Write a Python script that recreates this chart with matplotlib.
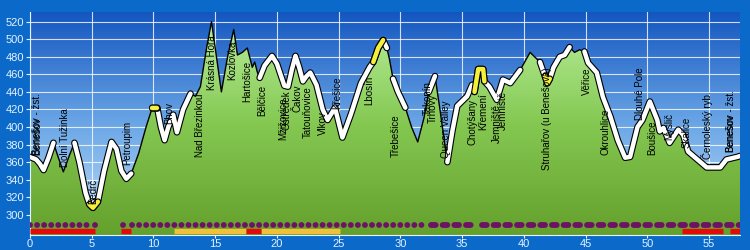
import numpy as np
import matplotlib.pyplot as plt
import matplotlib.patheffects as pe
from matplotlib.colors import LinearSegmentedColormap
from matplotlib.patches import Polygon

plt.rcParams['font.family'] = ['Liberation Sans', 'DejaVu Sans']

# elevation profile (km, m)
km = np.array([0.0, 0.5, 0.8, 1.1, 1.5, 1.9, 2.3, 2.7, 3.2, 3.6, 4.0, 4.5, 4.8, 5.1, 5.5,
               6.0, 6.6, 7.0, 7.4, 7.8, 8.2, 8.8, 9.4, 9.9, 10.3, 10.6, 10.9, 11.2, 11.6,
               11.9, 12.4, 13.0, 13.4, 13.8, 14.3, 14.7, 15.1, 15.5, 16.0, 16.5, 16.8,
               17.2, 17.6, 18.0, 18.2, 18.4, 18.6, 19.0, 19.6, 20.0, 20.6, 20.9, 21.2,
               21.5, 21.8, 22.1, 22.4, 22.7, 23.2, 23.7, 24.1, 24.7, 25.3, 26.0, 26.8,
               27.5, 27.8, 28.2, 28.6, 28.9, 29.1, 29.4, 29.8, 30.4, 30.9, 31.4, 31.9,
               32.3, 32.8, 33.2, 33.8, 34.2, 34.6, 35.4, 35.8, 36.0, 36.3, 36.7, 36.8,
               37.2, 37.8, 38.3, 38.9, 39.7, 40.5, 41.3, 41.7, 41.9, 42.1, 42.4, 42.9,
               43.3, 43.7, 44.1, 44.5, 44.9, 45.2, 45.9, 46.4, 47.0, 47.6, 48.2, 48.6,
               49.2, 49.6, 50.2, 50.8, 51.0, 51.3, 51.8, 52.5, 52.9, 53.3, 54.3, 54.8,
               55.9, 56.4, 57.3, 57.5])
elev = np.array([366, 363, 358, 351, 365, 382, 365, 349, 368, 382, 360, 325, 312, 308, 315,
                 350, 383, 375, 350, 341, 347, 370, 400, 422, 422, 400, 385, 400, 414,
                 394, 420, 438, 435, 446, 490, 520, 480, 440, 480, 511, 482,
                 485, 490, 468, 474, 463, 456, 470, 481, 472, 447, 446, 465,
                 481, 468, 452, 458, 462, 448, 420, 408, 422, 388, 415, 450,
                 468, 474, 490, 499, 490, 478, 455, 440, 422, 400, 383, 410,
                 440, 458, 420, 360, 395, 424, 435, 448, 440, 466, 466, 452,
                 446, 431, 454, 450, 465, 485, 474, 458, 450, 455, 468, 480,
                 482, 491, 485, 488, 486, 473, 462, 434, 412, 385, 365, 366,
                 400, 408, 429, 408, 395, 399, 382, 397, 391, 372, 360, 354,
                 354, 363, 366, 367])

# parts of the route with track line / climbs
track_segments = [(0.0, 1.9), (3.6, 8.2), (9.9, 13.0), (18.6, 28.9), (29.4, 30.4),
                  (32.3, 32.8), (33.8, 39.7), (41.3, 43.7), (44.9, 57.5)]
yellow_segments = [(4.8, 5.5), (9.9, 10.3), (27.8, 28.6), (36.0, 36.8), (41.7, 42.1)]

# places
place_names = ['Benešov', 'Benešov - žst.', 'Dolní Tužinka', 'Bedrč', 'Petroupim', 'Bhov',
               'Nad Březinkou', 'Krásná Hora', 'Kozlovka', 'Hartošice', 'Bělčice',
               'Mžižovice', 'Ostředek', 'Čakov', 'Tatouňovice', 'Vlkov', 'Křešice',
               'Lbosín', 'Třebešice', 'Takonín', 'Trhový', 'Queen Valley', 'Chotýšany',
               'Křemení', 'Jemniště', 'Jemniště', 'Struhařov (u Benešova)', 'Věřice',
               'Okrouhlice', 'Dlouhé Pole', 'Boušice', 'Myslič', 'Skalice',
               'Černoleský ryb.', 'Benešov', 'Benešov - žst.']
place_km = [0.55, 0.6, 2.8, 5.1, 7.9, 11.3, 13.8, 14.7, 16.4, 17.6, 18.8, 20.5, 20.8,
            21.7, 22.5, 23.7, 24.9, 27.5, 29.6, 32.2, 32.6, 33.7, 35.8, 36.7, 37.8, 38.3,
            41.9, 45.1, 46.6, 49.4, 50.4, 51.8, 53.2, 54.8, 56.7, 56.75]
place_elev = [368, 368, 355, 312, 357, 403, 366, 442, 454, 428, 412, 385, 397, 417,
              388, 391, 420, 425, 366, 414, 405, 365, 380, 397, 382, 397, 351, 437,
              368, 408, 368, 385, 376, 363, 372, 372]

# surface / way type strips
purple_dot_segments = [(0.0, 4.9), (5.3, 5.4), (7.5, 7.6), (8.3, 32.0)]
purple_dash_segments = [(32.5, 35.9), (36.6, 57.5)]
red_segments = [(0.0, 5.3), (7.4, 8.2), (17.5, 18.7), (52.8, 56.1), (56.7, 57.5)]
gold_segments = [(11.7, 17.5), (18.7, 25.1)]

xmin, xmax, ymin, ymax = 0, 57.5, 277, 531

fig = plt.figure(figsize=(7.5, 2.5), dpi=100, facecolor='#0b69c9')
ax = fig.add_axes([30 / 750, 15 / 250, 710 / 750, 223 / 250])
ax.set_xlim(xmin, xmax)
ax.set_ylim(ymin, ymax)
ax.set_axisbelow(True)

sky = LinearSegmentedColormap.from_list('sky', ['#c4e2fa', '#6aa6e6', '#1456c0'])
grass = LinearSegmentedColormap.from_list('grass', ['#64a02c', '#84c852', '#bcf2a0'])
grad = np.linspace(0, 1, 256).reshape(-1, 1)
ax.imshow(grad, extent=[xmin, xmax, ymin, ymax], origin='lower', aspect='auto',
          cmap=sky, zorder=0)

verts = np.column_stack([np.r_[km[0], km, km[-1]], np.r_[ymin, elev, ymin]])
poly = Polygon(verts, closed=True, facecolor='none', edgecolor='none', zorder=2)
ax.add_patch(poly)
im = ax.imshow(grad, extent=[xmin, xmax, ymin, ymax], origin='lower', aspect='auto',
               cmap=grass, zorder=2)
im.set_clip_path(poly)

ax.grid(color='white', lw=0.8, alpha=0.8)

ax.plot(km, elev, color='black', lw=1, zorder=3)

stroke = [pe.Stroke(linewidth=4.8, foreground='black'), pe.Normal()]
for a, b in track_segments:
    sel = (km >= a) & (km <= b)
    ax.plot(km[sel], elev[sel], color='white', lw=3.2, zorder=4, solid_joinstyle='round',
            solid_capstyle='round', path_effects=stroke)
for a, b in yellow_segments:
    sel = (km >= a) & (km <= b)
    ax.plot(km[sel], elev[sel], color='#f4f03c', lw=3.2, zorder=5, solid_joinstyle='round',
            solid_capstyle='round', path_effects=stroke)

for name, k, e in zip(place_names, place_km, place_elev):
    ax.text(k, e, name, rotation=90, ha='center', va='bottom', fontsize=7,
            color='black', zorder=6)

# strips at the bottom
for a, b in purple_dot_segments:
    ax.plot([a, b], [288.6, 288.6], color='#6e1266', lw=4.2, linestyle=(0, (0.01, 1.2)),
            dash_capstyle='round', zorder=6)
for a, b in purple_dash_segments:
    ax.plot([a, b], [288.6, 288.6], color='#6e1266', lw=4.2, linestyle=(0, (0.8, 1.2)),
            dash_capstyle='round', zorder=6)
for a, b in gold_segments:
    ax.plot([a, b], [282, 282], color='#f0c03a', lw=3.8, solid_capstyle='butt', zorder=6)
for a, b in red_segments:
    ax.plot([a, b], [282, 282], color='#e40a0a', lw=3.8, solid_capstyle='butt', zorder=7)

ax.set_xticks(range(0, 56, 5))
ax.set_yticks(range(300, 521, 20))
ax.tick_params(colors='#e6f2ff', labelsize=8, width=0.8)
ax.tick_params(axis='x', length=2, pad=1)
ax.tick_params(axis='y', length=3, pad=1.5)
for s in ['top', 'right']:
    ax.spines[s].set_visible(False)
for s in ['left', 'bottom']:
    ax.spines[s].set_color('#e6f2ff')

fig.savefig('out.png', dpi=100, facecolor=fig.get_facecolor())
